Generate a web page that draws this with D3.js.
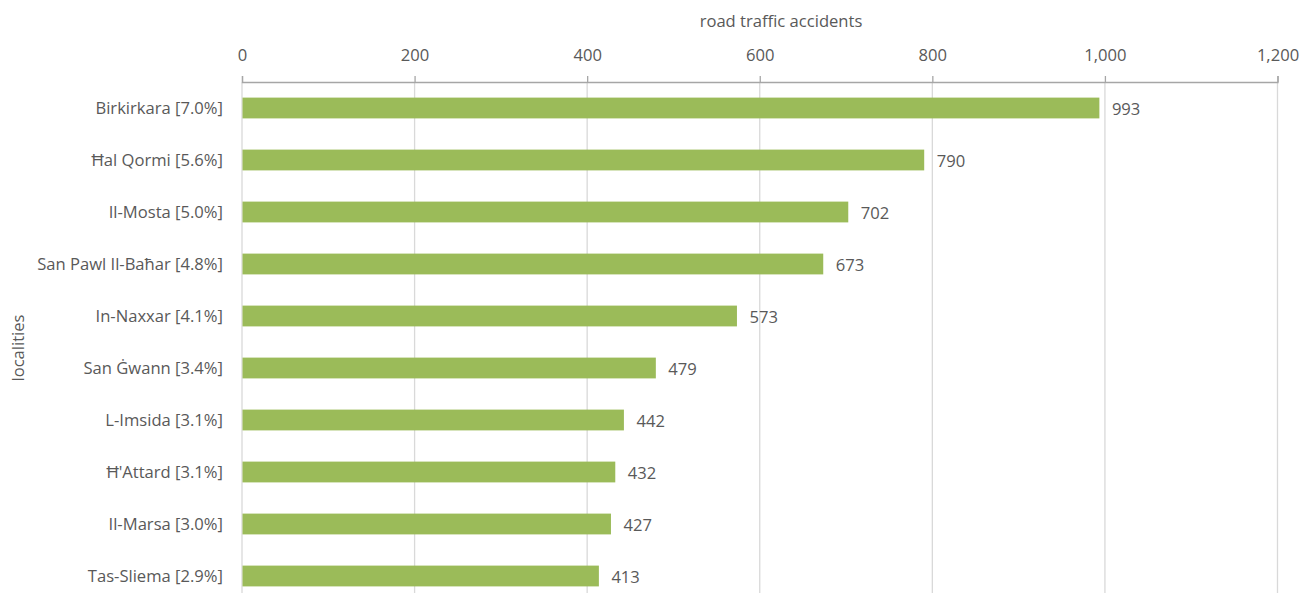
<!DOCTYPE html>
<html><head><meta charset="utf-8">
<script src="https://cdn.jsdelivr.net/npm/d3@7"></script>
<style>body{margin:0;background:#fff}svg{display:block}</style>
</head><body>
<svg id="c" width="1311" height="593"></svg>
<script>
const categories = ["Birkirkara [7.0%]","Ħal Qormi [5.6%]","Il-Mosta [5.0%]","San Pawl Il-Baħar [4.8%]","In-Naxxar [4.1%]","San Ġwann [3.4%]","L-Imsida [3.1%]","Ħ'Attard [3.1%]","Il-Marsa [3.0%]","Tas-Sliema [2.9%]"];
const values = [993,790,702,673,573,479,442,432,427,413];
const xTicks = [0,200,400,600,800,1000,1200];
const xTitle = "road traffic accidents";
const yTitle = "localities";

const svg = d3.select("#c");
const font = "'Open Sans', sans-serif";
const fs = "16.6px";
const x = d3.scaleLinear().domain([0,1200]).range([242,1277.5]);
const y = d3.scaleBand().domain(categories).range([82,602]).paddingInner(0.6).paddingOuter(0.3);

// gridlines
svg.append("g").selectAll("line").data(xTicks).join("line")
  .attr("x1",d=>x(d)).attr("x2",d=>x(d)).attr("y1",82).attr("y2",593)
  .attr("stroke","#d9d9d9").attr("stroke-width",1.3);

// top axis
const ax = svg.append("g").attr("transform","translate(0,82)")
  .call(d3.axisTop(x).tickValues(xTicks).tickSize(6).tickPadding(15).tickFormat(d3.format(",")));
ax.select(".domain").attr("stroke","#a6a6a6").attr("stroke-width",1.3);
ax.selectAll(".tick line").attr("stroke","#a6a6a6").attr("stroke-width",1.3);
ax.selectAll("text").attr("fill","#595959").style("font-family",font).style("font-size",fs);

// bars
svg.append("g").selectAll("rect").data(values).join("rect")
  .attr("x",x(0)+0.5).attr("y",(d,i)=>y(categories[i]))
  .attr("width",d=>x(d)-x(0)).attr("height",y.bandwidth())
  .attr("fill","#9bbb59");

// value labels
svg.append("g").selectAll("text").data(values).join("text")
  .attr("x",d=>x(d)+13).attr("y",(d,i)=>y(categories[i])+y.bandwidth()/2+1)
  .attr("dy","0.35em").text(d=>d)
  .attr("fill","#595959").style("font-family",font).style("font-size",fs);

// category labels
svg.append("g").selectAll("text").data(categories).join("text")
  .attr("x",223).attr("y",d=>y(d)+y.bandwidth()/2).attr("dy","0.35em")
  .attr("text-anchor","end").text(d=>d)
  .attr("fill","#595959").style("font-family",font).style("font-size",fs);

// titles
svg.append("text").attr("x",781).attr("y",21).attr("dy","0.35em").attr("text-anchor","middle")
  .text(xTitle).attr("fill","#595959").style("font-family",font).style("font-size",fs);
svg.append("text").attr("transform","translate(18,348) rotate(-90)").attr("dy","0.35em")
  .attr("text-anchor","middle").text(yTitle)
  .attr("fill","#595959").style("font-family",font).style("font-size",fs);
</script>
</body></html>
